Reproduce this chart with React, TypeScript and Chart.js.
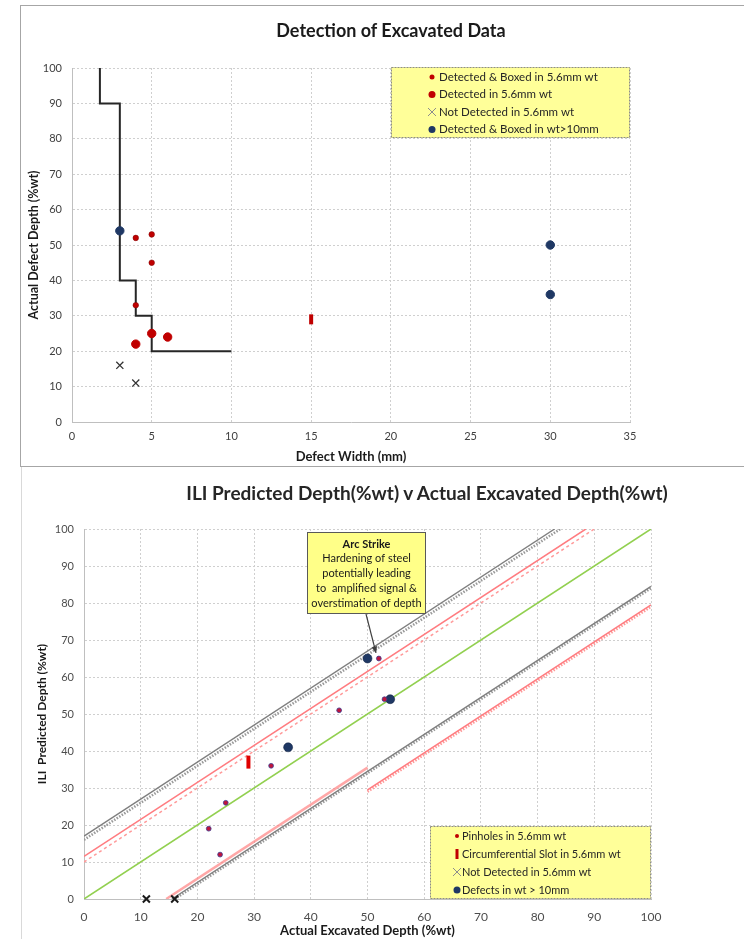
import React, { useEffect, useRef } from "react";
import { Chart, registerables } from "chart.js";
Chart.register(...registerables);

const FONT = "Lato, 'Open Sans', 'DejaVu Sans', sans-serif";

// ---------- Top chart: Detection of Excavated Data ----------
const stepWidth = [1.75, 1.75, 3, 3, 4, 4, 5, 5, 10];
const stepDepth = [100, 90, 90, 40, 40, 30, 30, 20, 20];
const boxedThinWidth = [4, 5, 5, 4];
const boxedThinDepth = [52, 53, 45, 33];
const detectedThinWidth = [4, 5, 6];
const detectedThinDepth = [22, 25, 24];
const slotWidth = [15];
const slotDepth = [29];
const notDetectedWidth = [3, 4];
const notDetectedDepth = [16, 11];
const thickWidth = [3, 30, 30];
const thickDepth = [54, 50, 36];
const topLegend = [
  "Detected & Boxed in 5.6mm wt",
  "Detected in 5.6mm wt",
  "Not Detected in 5.6mm wt",
  "Detected & Boxed in wt>10mm",
];

// ---------- Bottom chart: ILI Predicted vs Actual ----------
const pinActual = [22, 24, 25, 33, 45, 52, 53];
const pinPredicted = [19, 12, 26, 36, 51, 65, 54];
const slotActual = [29];
const slotPredicted = [37];
const notDetActual = [11, 16];
const notDetPredicted = [0, 0];
const thickActual = [50, 36, 54];
const thickPredicted = [65, 41, 54];
const unityX = [0, 100];
const unityY = [0, 100];
const upperGrayX = [0, 83];
const upperGrayY = [17, 100];
const upperGrayDotX = [0, 84];
const upperGrayDotY = [16, 100];
const upperRedX = [0, 88.5];
const upperRedY = [11.5, 100];
const upperRedDashX = [0, 90];
const upperRedDashY = [10, 100];
const lowerGrayX = [15.5, 100];
const lowerGrayY = [0, 84.5];
const lowerGrayDotX = [16, 100];
const lowerGrayDotY = [0, 84];
const lowerRedAX = [14.5, 50];
const lowerRedAY = [0, 35.5];
const lowerRedBX = [50, 100];
const lowerRedBY = [29.5, 79.5];
const lowerRedBDotX = [50, 100];
const lowerRedBDotY = [29, 79];
const bottomLegend = [
  "Pinholes in 5.6mm wt",
  "Circumferential Slot in 5.6mm wt",
  "Not Detected in 5.6mm wt",
  "Defects in wt > 10mm",
];
const noteLines = [
  "Arc Strike",
  "Hardening of steel",
  "potentially leading",
  "to  amplified signal &",
  "overstimation of depth",
];
const noteTarget = { x: 51.5, y: 66.5 };

const RED = "#C00000";
const NAVY = "#1F3864";

const pts = (xs: number[], ys: number[]) => xs.map((x, i) => ({ x, y: ys[i] }));

function drawMarker(ctx: CanvasRenderingContext2D, kind: string, x: number, y: number) {
  ctx.save();
  if (kind === "dotSmall" || kind === "dot" || kind === "navy" || kind === "pin") {
    const r = kind === "dotSmall" ? 2.5 : kind === "pin" ? 2 : 3.5;
    ctx.beginPath();
    ctx.arc(x, y, r, 0, Math.PI * 2);
    ctx.fillStyle = kind === "navy" ? NAVY : RED;
    ctx.fill();
  } else if (kind === "x") {
    ctx.strokeStyle = "#8C8C8C";
    ctx.lineWidth = 1;
    ctx.beginPath();
    ctx.moveTo(x - 4, y - 4);
    ctx.lineTo(x + 4, y + 4);
    ctx.moveTo(x + 4, y - 4);
    ctx.lineTo(x - 4, y + 4);
    ctx.stroke();
  } else if (kind === "bar") {
    ctx.fillStyle = RED;
    ctx.fillRect(x - 1.5, y - 5, 3, 10);
  }
  ctx.restore();
}

function legendPlugin(id: string, atTop: boolean, w: number, h: number, rowTop: number, rowGap: number, markerX: number, textX: number, labels: string[], kinds: string[], fontSize: number) {
  return {
    id,
    afterDraw(chart: any) {
      const { ctx, chartArea } = chart;
      const left = chartArea.right - w;
      const boxTop = atTop ? chartArea.top - 1 : chartArea.bottom - h;
      ctx.save();
      ctx.fillStyle = "#FFFF99";
      ctx.fillRect(left, boxTop, w, h);
      ctx.strokeStyle = "#8C8C8C";
      ctx.lineWidth = 1;
      ctx.setLineDash([2, 1]);
      ctx.strokeRect(left + 0.5, boxTop + 0.5, w - 1, h - 1);
      ctx.setLineDash([]);
      ctx.font = `${fontSize}px ${FONT}`;
      ctx.fillStyle = "#262626";
      ctx.textBaseline = "middle";
      labels.forEach((t, i) => {
        const y = boxTop + rowTop + i * rowGap;
        drawMarker(ctx, kinds[i], left + markerX, y);
        ctx.fillText(t, left + textX, y);
      });
      ctx.restore();
    },
  };
}

const notePlugin = {
  id: "note",
  afterDraw(chart: any) {
    const { ctx, chartArea, scales } = chart;
    const left = chartArea.left + 223;
    const top = chartArea.top + 3;
    const w = 119;
    const h = 82;
    ctx.save();
    const tx = scales.x.getPixelForValue(noteTarget.x);
    const ty = scales.y.getPixelForValue(noteTarget.y);
    const sx = left + 59;
    const sy = top + h;
    ctx.strokeStyle = "#404040";
    ctx.lineWidth = 1.2;
    ctx.beginPath();
    ctx.moveTo(sx, sy);
    ctx.lineTo(tx, ty);
    ctx.stroke();
    const ang = Math.atan2(ty - sy, tx - sx);
    ctx.fillStyle = "#404040";
    ctx.beginPath();
    ctx.moveTo(tx, ty);
    ctx.lineTo(tx - 7 * Math.cos(ang - 0.4), ty - 7 * Math.sin(ang - 0.4));
    ctx.lineTo(tx - 7 * Math.cos(ang + 0.4), ty - 7 * Math.sin(ang + 0.4));
    ctx.closePath();
    ctx.fill();
    ctx.fillStyle = "#FFFF88";
    ctx.fillRect(left, top, w, h);
    ctx.strokeStyle = "#595959";
    ctx.lineWidth = 1;
    ctx.strokeRect(left + 0.5, top + 0.5, w - 1, h - 1);
    ctx.textAlign = "center";
    ctx.textBaseline = "middle";
    ctx.fillStyle = "#1A1A1A";
    noteLines.forEach((t, i) => {
      ctx.font = `${i === 0 ? "bold " : ""}11px ${FONT}`;
      ctx.fillText(t, left + w / 2, top + 12 + i * 14.8);
    });
    ctx.restore();
  },
};

function axis(min: number, max: number, step: number, title: string, opts: any) {
  return {
    type: "linear",
    min,
    max,
    ticks: {
      stepSize: step,
      padding: opts.tickPad,
      color: opts.tickColor,
      font: { family: FONT, size: opts.tickSize },
    },
    grid: { color: "#CFCFCF", drawTicks: false, lineWidth: 1 },
    border: { display: true, color: "#BFBFBF", dash: [2, 2] },
    title: {
      display: true,
      text: title,
      color: "#1A1A1A",
      font: { family: FONT, size: opts.titleSize, weight: "bold" },
      padding: opts.titlePad,
    },
    afterFit: opts.afterFit,
  };
}

function topConfig(): any {
  return {
    type: "scatter",
    data: {
      datasets: [
        { data: pts(boxedThinWidth, boxedThinDepth), pointRadius: 2.8, backgroundColor: RED, borderColor: "#7A0000", borderWidth: 0.5, order: 0 },
        { data: pts(detectedThinWidth, detectedThinDepth), pointRadius: 4.2, backgroundColor: RED, borderColor: RED, order: 0 },
        { data: pts(notDetectedWidth, notDetectedDepth), pointStyle: "crossRot", pointRadius: 5, borderColor: "#333333", borderWidth: 1.3, order: 0 },
        { data: pts(thickWidth, thickDepth), pointRadius: 4.2, backgroundColor: NAVY, borderColor: NAVY, order: 0 },
        { data: pts(slotWidth, slotDepth), pointStyle: "line", rotation: 90, pointRadius: 5, borderColor: RED, borderWidth: 4, order: 0 },
        { data: pts(stepWidth, stepDepth), showLine: true, pointRadius: 0, borderColor: "#262626", borderWidth: 2, order: 1 },
      ],
    },
    options: {
      animation: false,
      responsive: false,
      layout: { padding: { left: 0, top: 62, right: 114, bottom: 0 } },
      plugins: { legend: { display: false }, tooltip: { enabled: false }, title: { display: false } },
      scales: {
        x: axis(0, 35, 5, "Defect Width (mm)", {
          tickPad: 8, tickColor: "#404040", tickSize: 11, titleSize: 13, titlePad: { top: 0, bottom: 0 },
          afterFit: (s: any) => { s.height = 43; },
        }),
        y: axis(0, 100, 10, "Actual Defect Depth (%wt)", {
          tickPad: 10, tickColor: "#404040", tickSize: 11, titleSize: 12.5, titlePad: { top: 5, bottom: 0 },
          afterFit: (s: any) => { s.width = 51; },
        }),
      },
    },
    plugins: [legendPlugin("topLegend", true, 239, 71, 10, 17.5, 41, 48, topLegend, ["dotSmall", "dot", "x", "navy"], 11.5)],
  };
}

function bottomConfig(): any {
  const line = (xs: number[], ys: number[], color: string, width: number, dash: number[] = [], order = 2) => ({
    data: pts(xs, ys), showLine: true, pointRadius: 0, borderColor: color, borderWidth: width, borderDash: dash, order,
  });
  return {
    type: "scatter",
    data: {
      datasets: [
        { data: pts(pinActual, pinPredicted), pointRadius: 2.4, backgroundColor: "#C0143C", borderColor: "#3B3B8F", borderWidth: 0.8, order: 0 },
        { data: pts(slotActual, slotPredicted), pointStyle: "line", rotation: 90, pointRadius: 6.5, borderColor: "#E00000", borderWidth: 4, order: 0 },
        { data: pts(notDetActual, notDetPredicted), pointStyle: "crossRot", pointRadius: 5, borderColor: "#1A1A1A", borderWidth: 2, order: 0, clip: false },
        { data: pts(thickActual, thickPredicted), pointRadius: 4.5, backgroundColor: NAVY, borderColor: "#102040", borderWidth: 0.5, order: 0 },
        line(unityX, unityY, "#92D050", 1.6),
        line(upperGrayX, upperGrayY, "#7F7F7F", 1.4),
        line(upperGrayDotX, upperGrayDotY, "#9A9A9A", 2.6, [1.5, 1.5]),
        line(upperRedX, upperRedY, "#FF7C80", 1.5),
        line(upperRedDashX, upperRedDashY, "#FF9A9A", 1.5, [3, 3]),
        line(lowerGrayX, lowerGrayY, "#7F7F7F", 1.4),
        line(lowerGrayDotX, lowerGrayDotY, "#9A9A9A", 2.6, [1.5, 1.5]),
        line(lowerRedBX, lowerRedBY, "#FF7C80", 1.5),
        line(lowerRedBDotX, lowerRedBDotY, "#FF9A9A", 2.6, [1.5, 1.5]),
        line(lowerRedAX, lowerRedAY, "rgba(255,130,130,0.7)", 2.5, [], 3),
      ],
    },
    options: {
      animation: false,
      responsive: false,
      layout: { padding: { left: 0, top: 62, right: 93, bottom: 0 } },
      plugins: { legend: { display: false }, tooltip: { enabled: false }, title: { display: false } },
      scales: {
        x: axis(0, 100, 10, "Actual Excavated Depth (%wt)", {
          tickPad: 11, tickColor: "#4D4D4D", tickSize: 12, titleSize: 13, titlePad: { top: 0, bottom: 0 },
          afterFit: (s: any) => { s.height = 40; },
        }),
        y: axis(0, 100, 10, "ILI  Predicted Depth (%wt)", {
          tickPad: 10, tickColor: "#4D4D4D", tickSize: 11, titleSize: 12, titlePad: { top: 14, bottom: 0 },
          afterFit: (s: any) => { s.width = 63; },
        }),
      },
    },
    plugins: [
      notePlugin,
      legendPlugin("bottomLegend", false, 221, 73, 10, 18, 27, 32, bottomLegend, ["pin", "bar", "x", "navy"], 11),
    ],
  };
}

function ChartBox({ make, left, top, width, height }: { make: () => any; left: number; top: number; width: number; height: number }) {
  const ref = useRef<HTMLCanvasElement | null>(null);
  useEffect(() => {
    if (!ref.current) return;
    const c = new Chart(ref.current, make());
    return () => c.destroy();
  }, []);
  return (
    <canvas
      ref={ref}
      width={width}
      height={height}
      style={{ position: "absolute", left, top, width, height }}
    />
  );
}

export default function App() {
  return (
    <div style={{ position: "absolute", left: 0, top: 0, width: 744, height: 939, background: "#FFFFFF", overflow: "hidden", fontFamily: FONT }}>
      <div style={{ position: "absolute", left: 20, top: 5, width: 724, height: 460, borderLeft: "1px solid #A6A6A6", borderTop: "1px solid #A6A6A6", borderBottom: "1px solid #A6A6A6" }} />
      <div style={{ position: "absolute", left: 21, top: 467, width: 1, height: 472, background: "#D9D9D9" }} />
      <ChartBox make={topConfig} left={21} top={6} width={723} height={459} />
      <ChartBox make={bottomConfig} left={21} top={467} width={723} height={472} />
      <div style={{ position: "absolute", left: 191, top: 18, width: 400, textAlign: "center", fontWeight: "bold", fontSize: 18, color: "#1A1A1A", lineHeight: "24px" }}>
        Detection of Excavated Data
      </div>
      <div style={{ position: "absolute", left: 127, top: 480, width: 600, textAlign: "center", fontWeight: "bold", fontSize: 19, color: "#262626", lineHeight: "26px" }}>
        ILI Predicted Depth(%wt) v Actual Excavated Depth(%wt)
      </div>
    </div>
  );
}
